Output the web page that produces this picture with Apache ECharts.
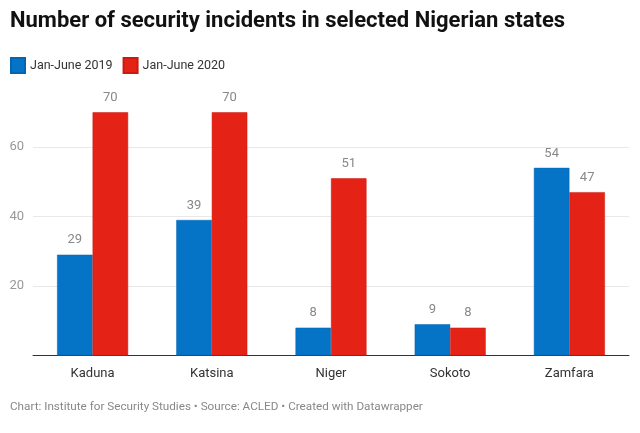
<!DOCTYPE html>
<html><head><meta charset="utf-8">
<script src="https://cdn.jsdelivr.net/npm/echarts@6/dist/echarts.min.js"></script>
<style>html,body{margin:0;padding:0;background:#fff}#c{width:640px;height:433px}</style>
</head><body><div id="c"></div>
<script>
const categories = ['Kaduna', 'Katsina', 'Niger', 'Sokoto', 'Zamfara'];
const series2019 = [29, 39, 8, 9, 54];
const series2020 = [70, 70, 51, 8, 47];
const seriesNames = ['Jan-June 2019', 'Jan-June 2020'];
const yTicks = [0, 20, 40, 60, 80];

const chart = echarts.init(document.getElementById('c'));
const labelStyle = { show: true, position: 'top', distance: 8, color: '#888', fontSize: 13, fontFamily: 'Roboto' };
chart.setOption({
  backgroundColor: '#fff',
  animation: false,
  title: {
    text: 'Number of security incidents in selected Nigerian states',
    left: 10, top: 10, padding: 0,
    textStyle: { fontFamily: 'Roboto', fontWeight: 'bold', fontSize: 22, color: '#111' }
  },
  legend: {
    left: 10, top: 57, padding: 0, icon: 'rect', itemWidth: 14, itemHeight: 15, itemGap: 10,
    textStyle: { fontFamily: 'Roboto', fontSize: 12.5, color: '#333' },
    data: seriesNames
  },
  graphic: [{
    type: 'text', left: 10, top: 401,
    style: { text: 'Chart: Institute for Security Studies • Source: ACLED • Created with Datawrapper', fill: '#888', font: '11.7px Roboto' }
  }],
  grid: { left: 33, right: 11, top: 77.5, bottom: 77.5 },
  xAxis: {
    type: 'category', data: categories,
    axisLine: { lineStyle: { color: '#333', width: 1 } },
    axisTick: { show: false },
    axisLabel: { color: '#333', fontSize: 13, fontFamily: 'Roboto', margin: 12 }
  },
  yAxis: {
    type: 'value', min: yTicks[0], max: yTicks[yTicks.length - 1], interval: 20,
    axisLine: { show: false }, axisTick: { show: false },
    axisLabel: { color: '#999', fontSize: 13, fontFamily: 'Roboto', margin: 9,
      formatter: v => (v === 0 || v === 80) ? '' : String(v) },
    splitLine: { lineStyle: { color: ['transparent', '#e8e8e8', '#e8e8e8', '#e8e8e8', 'transparent'] } }
  },
  series: [
    { name: seriesNames[0], type: 'bar', data: series2019, barWidth: 35.5, barGap: '0%',
      itemStyle: { color: '#0573c6', borderColor: '#0366b0', borderWidth: 0.5 }, label: labelStyle },
    { name: seriesNames[1], type: 'bar', data: series2020, barWidth: 35.5,
      itemStyle: { color: '#e52216', borderColor: '#cc1a10', borderWidth: 0.5 }, label: labelStyle }
  ]
});
</script></body></html>
